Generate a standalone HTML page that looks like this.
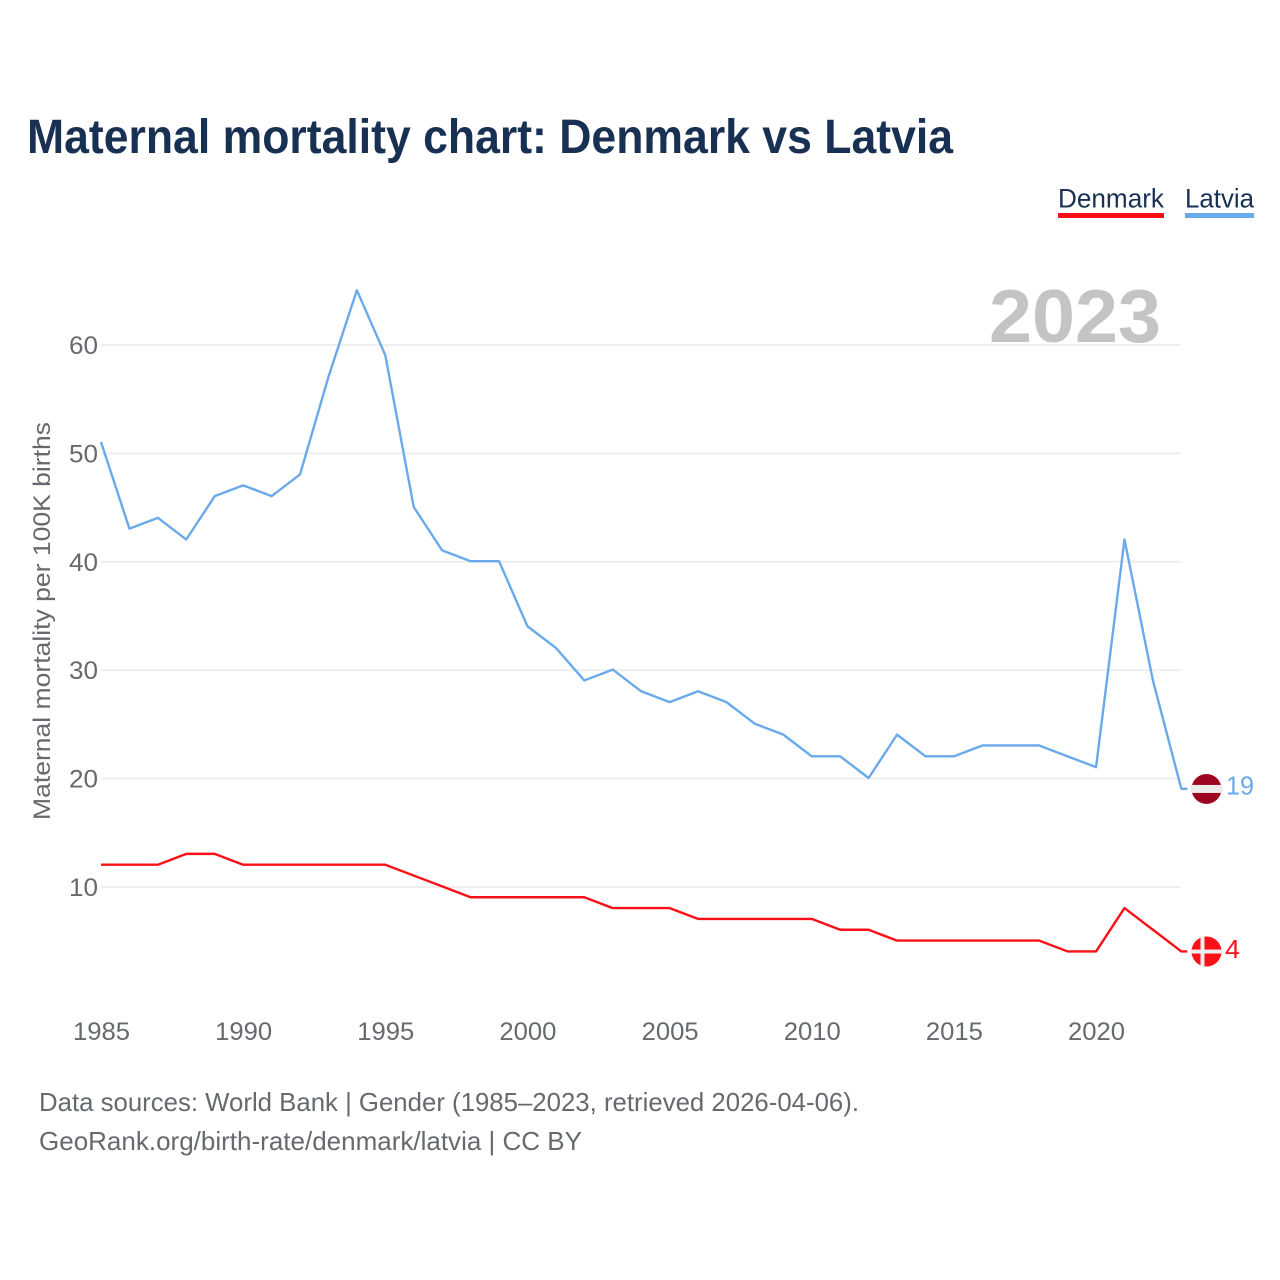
<!DOCTYPE html>
<html lang="en">
<head>
<meta charset="utf-8">
<title>Maternal mortality chart: Denmark vs Latvia</title>
<style>
html,body{margin:0;padding:0;background:#fff;width:1280px;height:1280px;overflow:hidden}
svg{display:block}
text{font-family:"Liberation Sans",sans-serif}
</style>
</head>
<body>
<svg id="chart" width="1280" height="1280" viewBox="0 0 1280 1280" xmlns="http://www.w3.org/2000/svg">
  <text x="27" y="153" font-size="48" font-weight="700" fill="#183153" textLength="926" lengthAdjust="spacingAndGlyphs">Maternal mortality chart: Denmark vs Latvia</text>

  <g>
    <g>
      <text x="1058" y="207.5" font-size="27" fill="#183153" textLength="106" lengthAdjust="spacingAndGlyphs">Denmark</text>
      <rect x="1058" y="213" width="106" height="5" fill="#fb1018"></rect>
    </g>
    <g>
      <text x="1185" y="207.5" font-size="27" fill="#183153" textLength="69" lengthAdjust="spacingAndGlyphs">Latvia</text>
      <rect x="1185" y="213" width="69" height="5" fill="#6aaaea"></rect>
    </g>
  </g>

  <g id="grid"></g>

  <text x="1161" y="342" text-anchor="end" font-size="75" font-weight="700" fill="#c4c4c4" textLength="172" lengthAdjust="spacingAndGlyphs">2023</text>

  <g id="yticks"></g>
  <g id="xticks"></g>

  <text transform="translate(50,621) rotate(-90)" text-anchor="middle" font-size="24" fill="#666a6e" textLength="398" lengthAdjust="spacingAndGlyphs">Maternal mortality per 100K births</text>

  <g id="series"></g>

  <g>
    <clipPath id="lv-clip"><circle id="lv-clip-c" r="15"></circle></clipPath>
    <g id="lv-flag" clip-path="url(#lv-clip)"></g>
  </g>
  <g>
    <clipPath id="dk-clip"><circle id="dk-clip-c" r="15"></circle></clipPath>
    <g id="dk-flag" clip-path="url(#dk-clip)"></g>
  </g>
  <text id="lv-end" x="1226" font-size="26" fill="#6aaaea" textLength="28" lengthAdjust="spacingAndGlyphs"></text>
  <text id="dk-end" x="1225" font-size="26" fill="#fb1018" textLength="15" lengthAdjust="spacingAndGlyphs"></text>

  <text x="39" y="1111" font-size="26" fill="#666a6e" textLength="820" lengthAdjust="spacingAndGlyphs">Data sources: World Bank | Gender (1985–2023, retrieved 2026-04-06).</text>
  <text x="39" y="1150" font-size="26" fill="#666a6e" textLength="543" lengthAdjust="spacingAndGlyphs">GeoRank.org/birth-rate/denmark/latvia | CC BY</text>
</svg>
<script>
const years = [1985,1986,1987,1988,1989,1990,1991,1992,1993,1994,1995,1996,1997,1998,1999,2000,2001,2002,2003,2004,2005,2006,2007,2008,2009,2010,2011,2012,2013,2014,2015,2016,2017,2018,2019,2020,2021,2022,2023];
const latvia = [51,43,44,42,46,47,46,48,57,65,59,45,41,40,40,34,32,29,30,28,27,28,27,25,24,22,22,20,24,22,22,23,23,23,22,21,42,29,19];
const denmark = [12,12,12,13,13,12,12,12,12,12,12,11,10,9,9,9,9,9,8,8,8,7,7,7,7,7,6,6,5,5,5,5,5,5,4,4,8,6,4];
const yTicks = [10,20,30,40,50,60];
const xTicks = [1985,1990,1995,2000,2005,2010,2015,2020];

const NS = 'http://www.w3.org/2000/svg';
const xScale = function (year) { return 101.5 + (year - 1985) * 28.43; };
const yScale = function (value) { return 995.4 - value * 10.84; };
const LINE_DX = -0.5;
const LINE_DY = -0.6;

function make(tag, parent, attrs) {
  const el = document.createElementNS(NS, tag);
  Object.keys(attrs).forEach(function (k) { el.setAttribute(k, attrs[k]); });
  parent.appendChild(el);
  return el;
}

const grid = document.getElementById('grid');
const yG = document.getElementById('yticks');
yTicks.forEach(function (v) {
  const line = make('line', grid, {x1: 101, x2: 1181, y1: yScale(v), y2: yScale(v), stroke: '#eeeeee', 'stroke-width': 2});
  
  
  const t = make('text', yG, {x: 98, y: yScale(v) + 9, 'text-anchor': 'end', 'font-size': 25, fill: '#666a6e', textLength: String(v).length * 14.5, lengthAdjust: 'spacingAndGlyphs'});
  t.textContent = v;
  
  
});

const xG = document.getElementById('xticks');
xTicks.forEach(function (y) {
  const t = make('text', xG, {x: xScale(y), y: 1040, 'text-anchor': 'middle', 'font-size': 25, fill: '#666a6e', textLength: 57, lengthAdjust: 'spacingAndGlyphs'});
  t.textContent = y;
  
  
});

function linePoints(values) {
  const pts = values.map(function (v, i) { return (xScale(years[i]) + LINE_DX).toFixed(2) + ',' + (yScale(v) + LINE_DY).toFixed(2); });
  const lastY = yScale(values[values.length - 1]) + LINE_DY;
  const lastX = xScale(years[years.length - 1]) + LINE_DX;
  pts.push((lastX + 6).toFixed(2) + ',' + lastY.toFixed(2));
  return pts.join(' ');
}

const seriesG = document.getElementById('series');
const latviaLine = make('polyline', seriesG, {points: linePoints(latvia), fill: 'none', stroke: '#6aaaea', 'stroke-width': 2.4, 'stroke-linejoin': 'round'});


const denmarkLine = make('polyline', seriesG, {points: linePoints(denmark), fill: 'none', stroke: '#fb1018', 'stroke-width': 2.4, 'stroke-linejoin': 'round'});



const flagX = 1206.5;
const lvY = yScale(latvia[latvia.length - 1]) - 0.5;
const dkY = yScale(denmark[denmark.length - 1]) - 0.5;

document.getElementById('lv-clip-c').setAttribute('cx', flagX);
document.getElementById('lv-clip-c').setAttribute('cy', lvY);
document.getElementById('dk-clip-c').setAttribute('cx', flagX);
document.getElementById('dk-clip-c').setAttribute('cy', dkY);

const lv = document.getElementById('lv-flag');
make('rect', lv, {x: flagX - 15, y: lvY - 16, width: 30, height: 32, fill: '#9e0420'});
make('rect', lv, {x: flagX - 15, y: lvY - 4, width: 30, height: 8, fill: '#ececec'});

const dk = document.getElementById('dk-flag');
make('rect', dk, {x: flagX - 15, y: dkY - 16, width: 30, height: 32, fill: '#fb1018'});
make('rect', dk, {x: flagX - 15, y: dkY - 2, width: 30, height: 4, fill: '#eeeeee'});
make('rect', dk, {x: flagX - 6, y: dkY - 16, width: 4, height: 32, fill: '#eeeeee'});

const lvEnd = document.getElementById('lv-end');
lvEnd.setAttribute('y', yScale(latvia[latvia.length - 1]) + 5);
lvEnd.textContent = latvia[latvia.length - 1];
const dkEnd = document.getElementById('dk-end');
dkEnd.setAttribute('y', yScale(denmark[denmark.length - 1]) + 6);
dkEnd.textContent = denmark[denmark.length - 1];
</script>
</body>
</html>
